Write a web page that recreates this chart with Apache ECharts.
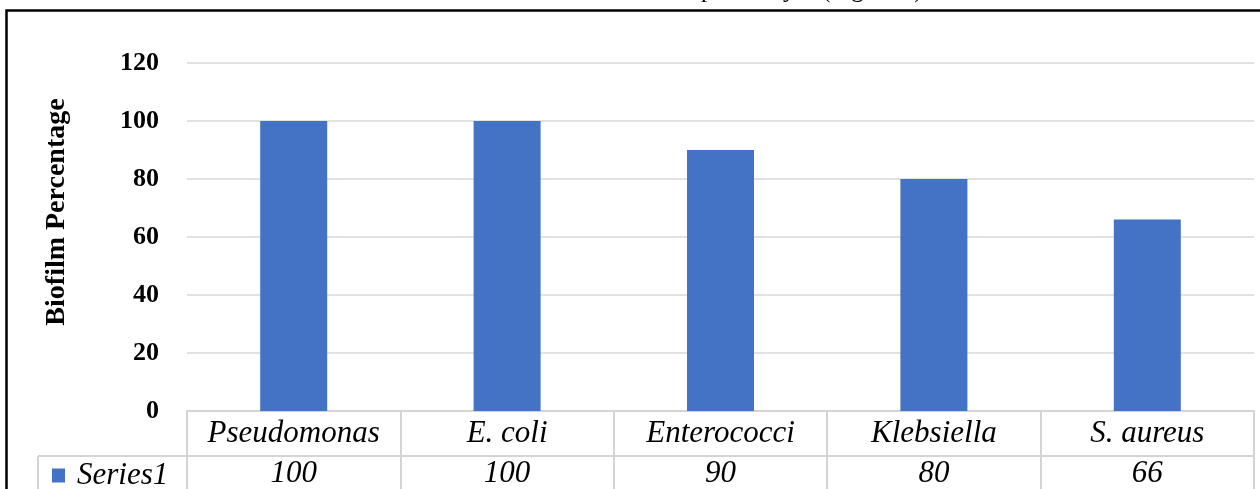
<!DOCTYPE html>
<html>
<head>
<meta charset="utf-8">
<script src="https://cdn.jsdelivr.net/npm/echarts@6/dist/echarts.min.js"></script>
<style>
html,body{margin:0;padding:0;background:#fff;}
#chart{width:1260px;height:489px;}
</style>
</head>
<body>
<div id="chart"></div>
<script>
var categories = ['Pseudomonas', 'E. coli', 'Enterococci', 'Klebsiella', 'S. aureus'];
var seriesName = 'Series1';
var values = [100, 100, 90, 80, 66];
var yTicks = [0, 20, 40, 60, 80, 100, 120];
var yTitle = 'Biofilm Percentage';

var serif = '"Liberation Serif", "Times New Roman", serif';
var gridColor = '#d9d9d9';
var tableColor = '#d4d4d4';

var chart = echarts.init(document.getElementById('chart'), null, {renderer: 'canvas'});
chart.setOption({
  backgroundColor: '#ffffff',
  animation: false,
  grid: {left: 187, right: 6, top: 63, bottom: 76, containLabel: false},
  legend: {
    data: [seriesName],
    left: 47, top: 455,
    icon: 'rect', itemWidth: 13, itemHeight: 14,
    textStyle: {fontFamily: serif, fontStyle: 'italic', fontSize: 31, color: '#000', padding: [0, 0, 0, 7]}
  },
  xAxis: [{
    type: 'category',
    data: categories,
    position: 'bottom',
    axisLine: {show: true, lineStyle: {color: tableColor, width: 2}},
    axisTick: {show: true, interval: 0, length: 80, lineStyle: {color: tableColor, width: 2}},
    axisLabel: {interval: 0, margin: 7, fontFamily: serif, fontStyle: 'italic', fontSize: 31, color: '#000'},
    splitLine: {show: false}
  }, {
    type: 'category',
    data: categories,
    position: 'bottom',
    offset: 43,
    axisLine: {show: false},
    axisTick: {show: false},
    axisLabel: {interval: 0, margin: 4, fontFamily: serif, fontStyle: 'italic', fontSize: 31, color: '#000',
      formatter: function (v, i) { return String(values[i]); }},
    splitLine: {show: false}
  }],
  yAxis: {
    type: 'value',
    min: yTicks[0], max: yTicks[yTicks.length - 1], interval: yTicks[1] - yTicks[0],
    axisLine: {show: false},
    axisTick: {show: false},
    axisLabel: {margin: 28, fontFamily: serif, fontWeight: 'bold', fontSize: 26, color: '#000'},
    splitLine: {show: true, lineStyle: {color: gridColor, width: 1.5}}
  },
  series: [{
    name: seriesName,
    type: 'bar',
    xAxisIndex: 0,
    data: values,
    barWidth: 67,
    itemStyle: {color: '#4472C4'}
  }],
  graphic: [
    {type: 'rect', silent: true, shape: {x: 6.5, y: 10.5, width: 1400, height: 600},
      style: {fill: 'none', stroke: '#000', lineWidth: 2.5}},
    {type: 'line', silent: true, shape: {x1: 38, y1: 456, x2: 1254, y2: 456},
      style: {stroke: tableColor, lineWidth: 2}},
    {type: 'line', silent: true, shape: {x1: 38, y1: 456, x2: 38, y2: 495},
      style: {stroke: tableColor, lineWidth: 2}},
    {type: 'text', silent: true, x: 57, y: 212, rotation: Math.PI / 2,
      style: {text: yTitle, fontFamily: serif, fontWeight: 'bold', fontSize: 28, fill: '#000', align: 'center', verticalAlign: 'middle'}},
    {type: 'text', silent: true, x: 701, y: 3,
      style: {text: 'positivity', fontFamily: serif, fontSize: 25, fill: '#000', align: 'left', verticalAlign: 'bottom'}},
    {type: 'text', silent: true, x: 822, y: 3,
      style: {text: '(Figure 3)', fontFamily: serif, fontSize: 25, fill: '#000', align: 'left', verticalAlign: 'bottom'}}
  ]
});
</script>
</body>
</html>
